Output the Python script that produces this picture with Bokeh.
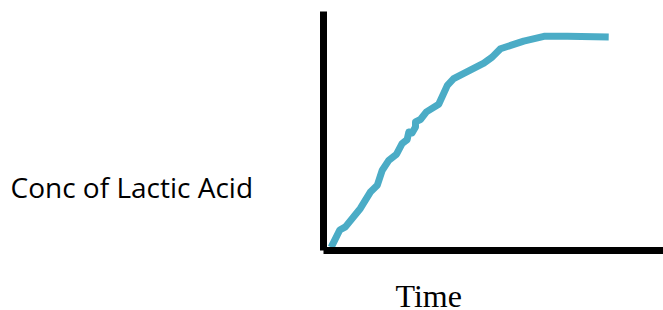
from bokeh.plotting import figure
from bokeh.models import Range1d, Label, FixedTicker
from bokeh.layouts import row, column
from bokeh.embed import file_html
from bokeh.resources import INLINE

# Data (arbitrary units)
time = [2.3, 4.9, 6.6, 11.1, 14.2, 16.2, 17.7, 19.7, 22.0, 23.7, 25.2, 25.7, 26.7,
        27.7, 27.7, 29.2, 31.0, 34.7, 37.3, 39.2, 48.3, 50.8, 53.3, 60.3, 66.4, 73.4, 85.9]
conc = [1.3, 8.6, 9.9, 17.6, 24.6, 27.3, 33.6, 37.8, 40.3, 44.8, 46.4, 49.6, 49.2,
        51.7, 53.8, 54.8, 58.0, 61.2, 69.1, 71.9, 78.4, 80.9, 84.4, 87.6, 89.6, 89.6, 89.3]

y_label = "Conc of Lactic Acid"
x_label = "Time"


def blank(w, h):
    f = figure(width=w, height=h, output_backend="svg", toolbar_location=None,
               x_range=Range1d(0, w), y_range=Range1d(0, h), min_border=0,
               frame_align=False)
    f.axis.visible = False
    f.grid.visible = False
    f.outline_line_color = None
    return f


# left panel holding the y-label
lab = blank(300, 310)
lab.add_layout(Label(x=10, y=124, text=y_label,
                     text_font="Open Sans", text_font_size="28px", text_color="black",
                     text_baseline="alphabetic", text_align="left"))

# main chart
p = figure(width=363, height=262, output_backend="svg", toolbar_location=None,
           x_range=Range1d(0, 102.4), y_range=Range1d(0, 100), frame_align=False,
           min_border_left=23, min_border_right=0, min_border_top=11, min_border_bottom=12)
p.outline_line_color = None
p.grid.visible = False
p.background_fill_color = "white"
p.border_fill_color = "white"

for ax in (p.xaxis[0], p.yaxis[0]):
    ax.ticker = FixedTicker(ticks=[])
    ax.axis_line_width = 7
    ax.axis_line_color = "black"
    ax.major_tick_line_color = None
    ax.minor_tick_line_color = None
    ax.major_tick_out = 0
    ax.major_label_standoff = 0

p.line(time, conc, line_width=7, line_color="#4BACC6", line_join="round")

# strip under the chart holding the x-label
tl = blank(363, 48)
tl.add_layout(Label(x=95, y=15, text=x_label,
                    text_font="Liberation Serif", text_font_size="32px", text_color="black",
                    text_baseline="alphabetic", text_align="left"))

layout = row(lab, column(p, tl, spacing=0), spacing=0)
open("out.html", "w").write(file_html(layout, INLINE))
